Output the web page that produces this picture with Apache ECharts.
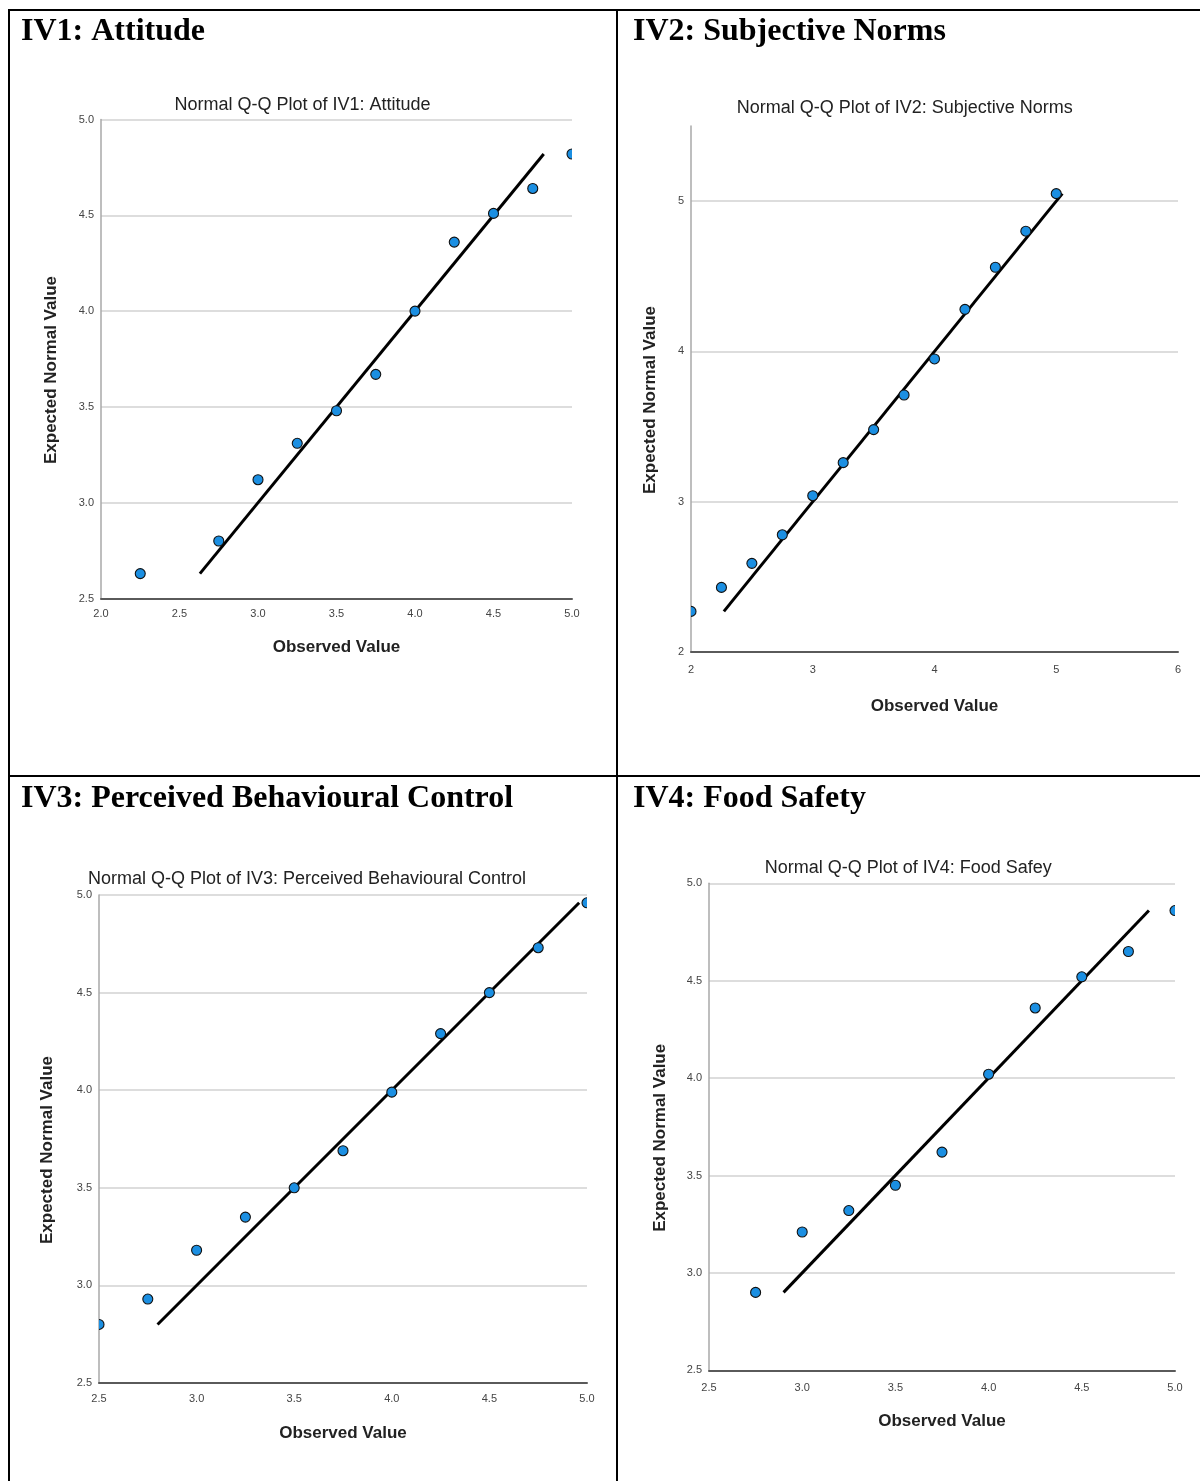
<!DOCTYPE html>
<html>
<head>
<meta charset="utf-8">
<script src="https://cdn.jsdelivr.net/npm/echarts@6/dist/echarts.min.js"></script>
<style>
html,body{margin:0;padding:0;background:#fff;}
#c{width:1200px;height:1481px;}
</style>
</head>
<body>
<div id="c"></div>
<script>
// ---------- text ----------
const headings = ['IV1: Attitude', 'IV2: Subjective Norms', 'IV3: Perceived Behavioural Control', 'IV4: Food Safety'];
const plotTitles = ['Normal Q-Q Plot of IV1: Attitude', 'Normal Q-Q Plot of IV2: Subjective Norms',
  'Normal Q-Q Plot of IV3: Perceived Behavioural Control', 'Normal Q-Q Plot of IV4: Food Safey'];
const xAxisName = 'Observed Value';
const yAxisName = 'Expected Normal Value';

// ---------- data (observed value, expected normal value) ----------
const obsIV1 = [2.25, 2.75, 3.00, 3.25, 3.50, 3.75, 4.00, 4.25, 4.50, 4.75, 5.00];
const expIV1 = [2.63, 2.80, 3.12, 3.31, 3.48, 3.67, 4.00, 4.36, 4.51, 4.64, 4.82];
const refIV1 = [2.63, 4.82];

const obsIV2 = [2.00, 2.25, 2.50, 2.75, 3.00, 3.25, 3.50, 3.75, 4.00, 4.25, 4.50, 4.75, 5.00];
const expIV2 = [2.27, 2.43, 2.59, 2.78, 3.04, 3.26, 3.48, 3.71, 3.95, 4.28, 4.56, 4.80, 5.05];
const refIV2 = [2.27, 5.05];

const obsIV3 = [2.50, 2.75, 3.00, 3.25, 3.50, 3.75, 4.00, 4.25, 4.50, 4.75, 5.00];
const expIV3 = [2.80, 2.93, 3.18, 3.35, 3.50, 3.69, 3.99, 4.29, 4.50, 4.73, 4.96];
const refIV3 = [2.80, 4.96];

const obsIV4 = [2.75, 3.00, 3.25, 3.50, 3.75, 4.00, 4.25, 4.50, 4.75, 5.00];
const expIV4 = [2.90, 3.21, 3.32, 3.45, 3.62, 4.02, 4.36, 4.52, 4.65, 4.86];
const refIV4 = [2.90, 4.86];

// axis ranges [min, max, interval]
const xRanges = [[2, 5, 0.5], [2, 6, 1], [2.5, 5, 0.5], [2.5, 5, 0.5]];
const yRanges = [[2.5, 5, 0.5], [2, 5.5, 1], [2.5, 5, 0.5], [2.5, 5, 0.5]];

const obsAll = [obsIV1, obsIV2, obsIV3, obsIV4];
const expAll = [expIV1, expIV2, expIV3, expIV4];
const refAll = [refIV1, refIV2, refIV3, refIV4];

// ---------- layout ----------
const layout = [
  {grid: [101, 119.5, 471, 479], title: [302.5, 104.8], head: [21, 32], xGap: 40.5, yGap: 41, xMargin: 10},
  {grid: [691, 126, 487, 526], title: [904.8, 107.7], head: [633, 32], xGap: 46, yGap: 32, xMargin: 12},
  {grid: [99, 895, 488, 488], title: [307, 878.7], head: [21, 799], xGap: 41.5, yGap: 43.5, xMargin: 10},
  {grid: [709, 883.3, 466, 487], title: [908.3, 868], head: [633, 799], xGap: 43, yGap: 40.5, xMargin: 12}
];

const sans = '"Liberation Sans", Arial, sans-serif';
const serif = '"Liberation Serif", "Times New Roman", serif';
const fmt = (step) => (v) => step < 1 ? v.toFixed(1) : String(Math.round(v));

const option = {
  animation: false,
  backgroundColor: '#ffffff',
  title: layout.map((L, i) => ({
    text: plotTitles[i], left: L.title[0], top: L.title[1], padding: 0,
    textAlign: 'center', textVerticalAlign: 'middle',
    textStyle: {fontFamily: sans, fontSize: 18, fontWeight: 'normal', color: '#222'}
  })),
  grid: layout.map(L => ({left: L.grid[0], top: L.grid[1], width: L.grid[2], height: L.grid[3],
    containLabel: false, outerBoundsMode: 'none'})),
  xAxis: layout.map((L, i) => ({
    type: 'value', gridIndex: i, min: xRanges[i][0], max: xRanges[i][1], interval: xRanges[i][2],
    name: xAxisName, nameLocation: 'middle', nameGap: L.xGap, nameMoveOverlap: false,
    nameTextStyle: {fontFamily: sans, fontSize: 17, fontWeight: 'bold', color: '#222'},
    axisLine: {show: true, onZero: false, lineStyle: {color: '#5a5a5a', width: 2}},
    axisTick: {show: false},
    axisLabel: {margin: L.xMargin, fontFamily: sans, fontSize: 11, color: '#444', formatter: fmt(xRanges[i][2])},
    splitLine: {show: false}
  })),
  yAxis: layout.map((L, i) => ({
    type: 'value', gridIndex: i, min: yRanges[i][0], max: yRanges[i][1], interval: yRanges[i][2],
    name: yAxisName, nameLocation: 'middle', nameGap: L.yGap, nameMoveOverlap: false,
    nameTextStyle: {fontFamily: sans, fontSize: 17, fontWeight: 'bold', color: '#222', padding: [0, 22, 0, 0]},
    axisLine: {show: true, onZero: false, lineStyle: {color: '#a8a8a8', width: 1.5}},
    axisTick: {show: false},
    axisLabel: {margin: 7, fontFamily: sans, fontSize: 11, color: '#444', formatter: fmt(yRanges[i][2]),
      showMaxLabel: i !== 1},
    splitLine: {show: true, showMinLine: false, showMaxLine: i !== 1,
      lineStyle: {color: '#d2d2d2', width: 1.5}}
  })),
  series: [],
  graphic: []
};

// points drawn through the axes' scales; custom series so edge points are clipped by the plot area
const renderPoint = (params, api) => {
  const p = api.coord([api.value(0), api.value(1)]);
  return {
    type: 'circle',
    shape: {cx: p[0], cy: p[1], r: 5},
    style: {fill: '#1b8fe2', stroke: '#111', lineWidth: 1.1}
  };
};

for (let i = 0; i < 4; i++) {
  option.series.push({
    type: 'line', xAxisIndex: i, yAxisIndex: i, symbol: 'none', silent: true, z: 2,
    data: [[refAll[i][0], refAll[i][0]], [refAll[i][1], refAll[i][1]]],
    lineStyle: {color: '#000', width: 3}
  });
  option.series.push({
    type: 'custom', xAxisIndex: i, yAxisIndex: i, z: 3, clip: true, silent: true,
    renderItem: renderPoint,
    encode: {x: 0, y: 1},
    data: obsAll[i].map((x, k) => [x, expAll[i][k]])
  });
}

// table borders
const borderLines = [[8, 10, 1200, 10], [9, 10, 9, 1481], [617, 10, 617, 1481], [9, 776, 1200, 776]];
borderLines.forEach(b => option.graphic.push({
  type: 'line', silent: true, z: 10,
  shape: {x1: b[0], y1: b[1], x2: b[2], y2: b[3]},
  style: {stroke: '#000', lineWidth: 2}
}));
layout.forEach((L, i) => option.graphic.push({
  type: 'text', x: L.head[0], y: L.head[1], silent: true,
  style: {text: headings[i], fontFamily: serif, fontSize: 32, fontWeight: 'bold', fill: '#000',
    align: 'left', verticalAlign: 'middle'}
}));

const chart = echarts.init(document.getElementById('c'), null, {renderer: 'canvas'});
chart.setOption(option);
</script>
</body>
</html>
